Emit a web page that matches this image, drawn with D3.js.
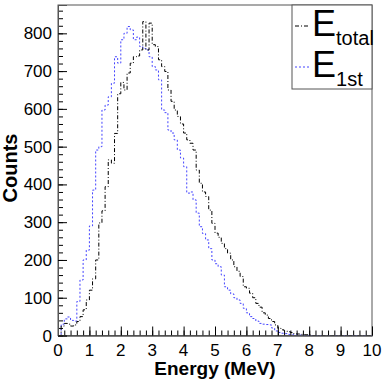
<!DOCTYPE html>
<html>
<head>
<meta charset="utf-8">
<script src="https://cdn.jsdelivr.net/npm/d3@7"></script>
<style>
  body { margin: 0; background: #fff; }
  text { font-family: "Liberation Sans", Arial, sans-serif; }
</style>
</head>
<body>
<div id="main"></div>
<script>
// histogram bins: 0.1 MeV wide, starting at 0
const binWidth = 0.1;
const eTotal = [
  0, 25, 32, 30, 25, 28, 37, 50, 68, 94,
  120, 150, 200, 298, 330, 394, 465, 456, 535, 640,
  670, 650, 695, 721, 738, 740, 756, 831, 756, 827,
  770, 765, 730, 712, 699, 650, 620, 597, 580, 560,
  536, 518, 509, 491, 438, 403, 380, 368, 332, 297,
  271, 260, 244, 230, 218, 200, 182, 170, 156, 129,
  125, 112, 100, 85, 75, 60, 54, 45, 37, 28,
  19, 15, 12, 10, 8, 5, 4, 3, 2, 2,
  1, 0, 0, 0, 0, 0, 0, 0, 0, 0,
  0, 0, 0, 0, 0, 0, 0, 0, 0, 0
];
const e1st = [
  0, 30, 44, 49, 40, 38, 90, 147, 200, 226,
  290, 385, 491, 500, 597, 610, 632, 668, 738, 721,
  783, 800, 818, 809, 783, 790, 765, 760, 756, 738,
  712, 703, 677, 597, 590, 544, 536, 518, 491, 470,
  447, 377, 380, 359, 324, 288, 270, 253, 230, 200,
  190, 182, 160, 129, 120, 110, 100, 94, 85, 72,
  60, 50, 45, 38, 32, 30, 29, 28, 20, 12,
  8, 6, 5, 3, 3, 2, 1, 1, 0, 0,
  0, 0, 0, 0, 0, 0, 0, 0, 0, 0,
  0, 0, 0, 0, 0, 0, 0, 0, 0, 0
];
const xTicks = [0, 1, 2, 3, 4, 5, 6, 7, 8, 9, 10];
const yTicks = [0, 100, 200, 300, 400, 500, 600, 700, 800];

const width = 382, height = 382;
const margin = {top: 5, right: 10, bottom: 46.5, left: 58};

const x = d3.scaleLinear()
  .domain([0, 10])
  .range([margin.left, width - margin.right]);

const y = d3.scaleLinear()
  .domain([0, 875])
  .range([height - margin.bottom, margin.top]);

const svg = d3.select("#main").append("svg")
  .attr("width", width)
  .attr("height", height);

// frame
svg.append("rect")
  .attr("x", x(0)).attr("y", y(875))
  .attr("width", x(10) - x(0)).attr("height", y(0) - y(875))
  .attr("fill", "none").attr("stroke", "#555");

// step line through the bin edges
function steps(vals) {
  const pts = vals.map((v, i) => [i * binWidth, v]);
  pts.push([vals.length * binWidth, vals[vals.length - 1]]);
  return pts;
}
const line = d3.line()
  .x(d => x(d[0]))
  .y(d => y(d[1]))
  .curve(d3.curveStepAfter);

svg.append("path")
  .attr("d", line(steps(e1st)))
  .attr("fill", "none")
  .attr("stroke", "#4444ff")
  .attr("stroke-width", 1)
  .attr("stroke-dasharray", "2,2");

svg.append("path")
  .attr("d", line(steps(eTotal)))
  .attr("fill", "none")
  .attr("stroke", "#000")
  .attr("stroke-width", 1)
  .attr("stroke-dasharray", "4,2,1,2");

// axes, ticks pointing inside
const xAxis = g => g
  .attr("transform", `translate(0,${y(0)})`)
  .call(d3.axisTop(x).tickValues(d3.range(0, 10.001, 0.2)).tickSize(5).tickFormat(""))
  .call(g => g.append("g")
    .call(d3.axisTop(x).tickValues(xTicks).tickSize(9).tickFormat("")))
  .call(g => g.selectAll(".domain").attr("stroke", "#555"))
  .call(g => g.selectAll("text").remove());

const yAxis = g => g
  .attr("transform", `translate(${x(0)},0)`)
  .call(d3.axisRight(y).tickValues(d3.range(0, 861, 20)).tickSize(5).tickFormat(""))
  .call(g => g.append("g")
    .call(d3.axisRight(y).tickValues(yTicks).tickSize(9).tickFormat("")))
  .call(g => g.selectAll(".domain").attr("stroke", "#555"));

svg.append("g").call(xAxis);
svg.append("g").call(yAxis);

// tick labels
svg.append("g")
  .selectAll("text")
  .data(xTicks)
  .join("text")
  .attr("x", d => x(d))
  .attr("y", y(0) + 20)
  .attr("text-anchor", "middle")
  .attr("font-size", 17)
  .text(d => d);

svg.append("g")
  .selectAll("text")
  .data(yTicks)
  .join("text")
  .attr("x", x(0) - 6)
  .attr("y", d => y(d) + 6)
  .attr("text-anchor", "end")
  .attr("font-size", 17)
  .text(d => d);

// axis titles
svg.append("text")
  .attr("x", (x(0) + x(10)) / 2)
  .attr("y", 375)
  .attr("text-anchor", "middle")
  .attr("font-size", 19)
  .attr("font-weight", "bold")
  .text("Energy (MeV)");

svg.append("text")
  .attr("transform", `translate(17,168) rotate(-90)`)
  .attr("text-anchor", "middle")
  .attr("font-size", 20)
  .attr("font-weight", "bold")
  .text("Counts");

// legend
const legend = svg.append("g");
legend.append("rect")
  .attr("x", 292).attr("y", 5)
  .attr("width", 80).attr("height", 84)
  .attr("fill", "#fff").attr("stroke", "#555");

const entries = [
  {name: "E", sub: "total", color: "#000", dash: "4,2,1,2", y0: 26},
  {name: "E", sub: "1st", color: "#4444ff", dash: "2,2", y0: 67}
];
entries.forEach(e => {
  legend.append("line")
    .attr("x1", 295).attr("x2", 309)
    .attr("y1", e.y0).attr("y2", e.y0)
    .attr("stroke", e.color)
    .attr("stroke-dasharray", e.dash);
  const t = legend.append("text")
    .attr("x", 312)
    .attr("y", e.y0 + 10)
    .attr("font-size", 36);
  t.append("tspan").text(e.name);
  t.append("tspan")
    .attr("font-size", 20)
    .attr("dy", 9)
    .text(e.sub);
});
</script>
</body>
</html>
